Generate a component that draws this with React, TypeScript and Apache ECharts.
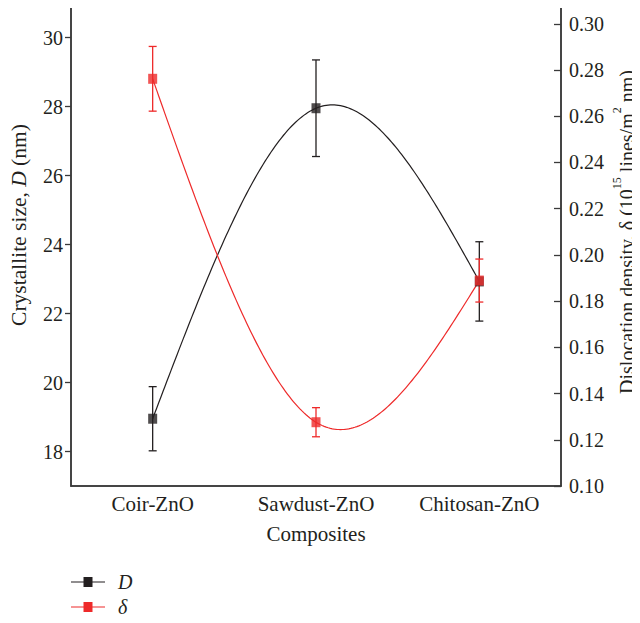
import React, { useEffect, useRef } from "react";
import * as echarts from "echarts";

const categories = ["Coir-ZnO", "Sawdust-ZnO", "Chitosan-ZnO"];
const sizeD = [18.95, 27.95, 22.93];
const sizeErr = [0.93, 1.4, 1.15];
const density = [0.2762, 0.1276, 0.1889];
const densityErr = [0.014, 0.0063, 0.0093];
const leftTicks = [18, 20, 22, 24, 26, 28, 30];
const rightTicks = [0.1, 0.12, 0.14, 0.16, 0.18, 0.2, 0.22, 0.24, 0.26, 0.28, 0.3];
const legendNames = ["D", "δ"];

const BLACK = "#231f20";
const RED = "#ee2a2a";
const FONT = "Liberation Serif";

function naturalSpline(pts: number[][], samples: number): number[][] {
  const n = pts.length;
  if (n < 3) return pts;
  const xs = pts.map((p) => p[0]);
  const ys = pts.map((p) => p[1]);
  const h: number[] = [];
  for (let i = 0; i < n - 1; i++) h.push(xs[i + 1] - xs[i]);
  const a: number[] = new Array(n).fill(0);
  const b: number[] = new Array(n).fill(1);
  const c: number[] = new Array(n).fill(0);
  const d: number[] = new Array(n).fill(0);
  for (let i = 1; i < n - 1; i++) {
    a[i] = h[i - 1];
    b[i] = 2 * (h[i - 1] + h[i]);
    c[i] = h[i];
    d[i] = 6 * ((ys[i + 1] - ys[i]) / h[i] - (ys[i] - ys[i - 1]) / h[i - 1]);
  }
  for (let i = 1; i < n; i++) {
    const m = a[i] / b[i - 1];
    b[i] -= m * c[i - 1];
    d[i] -= m * d[i - 1];
  }
  const M: number[] = new Array(n).fill(0);
  M[n - 1] = d[n - 1] / b[n - 1];
  for (let i = n - 2; i >= 0; i--) M[i] = (d[i] - c[i] * M[i + 1]) / b[i];
  const out: number[][] = [];
  for (let i = 0; i < n - 1; i++) {
    for (let s = 0; s <= samples; s++) {
      if (i > 0 && s === 0) continue;
      const t = s / samples;
      const x = xs[i] + t * h[i];
      const A = 1 - t;
      const B = t;
      const y =
        A * ys[i] +
        B * ys[i + 1] +
        ((A * A * A - A) * M[i] + (B * B * B - B) * M[i + 1]) * (h[i] * h[i]) / 6;
      out.push([x, y]);
    }
  }
  return out;
}

function splineSeries(values: number[], color: string, yAxisIndex: number) {
  return {
    type: "custom",
    yAxisIndex,
    z: 2,
    silent: true,
    data: values.map((v, i) => [i, v]),
    renderItem: (params: any, api: any) => {
      if (params.dataIndex !== 0) return { type: "group", children: [] };
      const pts = values.map((v, i) => api.coord([i, v]));
      return {
        type: "polyline",
        shape: { points: naturalSpline(pts, 80) },
        style: { stroke: color, fill: "none", lineWidth: 1.2 },
      };
    },
  };
}

function errorSeries(values: number[], errs: number[], color: string, yAxisIndex: number) {
  return {
    type: "custom",
    yAxisIndex,
    z: 1,
    silent: true,
    data: values.map((v, i) => [i, v - errs[i], v + errs[i]]),
    renderItem: (params: any, api: any) => {
      const x = api.value(0);
      const lo = api.coord([x, api.value(1)]);
      const hi = api.coord([x, api.value(2)]);
      const hw = 4;
      const style = { stroke: color, lineWidth: 1.3 };
      return {
        type: "group",
        children: [
          { type: "line", shape: { x1: lo[0], y1: lo[1], x2: hi[0], y2: hi[1] }, style },
          { type: "line", shape: { x1: lo[0] - hw, y1: lo[1], x2: lo[0] + hw, y2: lo[1] }, style },
          { type: "line", shape: { x1: hi[0] - hw, y1: hi[1], x2: hi[0] + hw, y2: hi[1] }, style },
        ],
      };
    },
  };
}

function legendItem(name: string, color: string, y: number) {
  return {
    type: "group",
    children: [
      { type: "line", shape: { x1: 71, y1: y, x2: 105, y2: y }, style: { stroke: color, lineWidth: 1.2 } },
      { type: "rect", shape: { x: 83.5, y: y - 5, width: 9, height: 10 }, style: { fill: color } },
      {
        type: "text",
        x: 118,
        y,
        style: {
          text: name,
          fontFamily: FONT,
          fontStyle: "italic",
          fontSize: 20,
          fill: BLACK,
          verticalAlign: "middle",
          align: "left",
        },
      },
    ],
  };
}

export default function App() {
  const ref = useRef<HTMLDivElement>(null);
  useEffect(() => {
    if (!ref.current) return;
    const chart = echarts.init(ref.current, null, { renderer: "svg" });
    const axisLine = { show: true, lineStyle: { color: "#3a3a3a", width: 1.5 } };
    chart.setOption({
      animation: false,
      backgroundColor: "#fff",
      textStyle: { fontFamily: FONT },
      grid: {
        left: 71,
        right: 79,
        top: 3,
        bottom: 137,
        show: true,
        borderColor: "#3a3a3a",
        borderWidth: 1.5,
        backgroundColor: "transparent",
      },
      xAxis: {
        type: "category",
        data: categories,
        boundaryGap: true,
        axisLine,
        axisTick: { show: false },
        axisLabel: { fontFamily: FONT, fontSize: 21, color: BLACK, margin: 7 },
        name: "Composites",
        nameLocation: "middle",
        nameGap: 37,
        nameTextStyle: { fontFamily: FONT, fontSize: 21, color: BLACK },
        splitLine: { show: false },
      },
      yAxis: [
        {
          type: "value",
          min: 17,
          max: 31,
          position: "left",
          axisLine,
          axisTick: { show: true, inside: false, length: 6, customValues: leftTicks, lineStyle: { color: "#3a3a3a", width: 1.3 } },
          axisLabel: { fontFamily: FONT, fontSize: 20, color: BLACK, margin: 8, customValues: leftTicks },
          splitLine: { show: false },
        },
        {
          type: "value",
          min: 0.1,
          max: 0.309,
          position: "right",
          axisLine,
          axisTick: { show: true, inside: true, length: 7, customValues: rightTicks, lineStyle: { color: "#3a3a3a", width: 1.3 } },
          axisLabel: {
            fontFamily: FONT,
            fontSize: 20,
            color: BLACK,
            margin: 8,
            customValues: rightTicks,
            formatter: (v: number) => v.toFixed(2),
          },
          splitLine: { show: false },
        },
      ],
      graphic: [
        {
          type: "text",
          x: 19,
          y: 225,
          rotation: Math.PI / 2,
          style: {
            text: "{n|Crystallite size, }{i|D}{n| (nm)}",
            align: "center",
            verticalAlign: "middle",
            rich: {
              n: { fontFamily: FONT, fontSize: 21.5, fill: BLACK },
              i: { fontFamily: FONT, fontSize: 21.5, fontStyle: "italic", fill: BLACK },
            },
          },
        },
        {
          type: "text",
          x: 624,
          y: 232,
          rotation: Math.PI / 2,
          style: {
            text: "{n|Dislocation density, δ (10}{s|15}{n| lines/m}{s|2}{n| nm)}",
            align: "center",
            verticalAlign: "middle",
            rich: {
              n: { fontFamily: FONT, fontSize: 20, fill: BLACK, verticalAlign: "bottom", lineHeight: 26 },
              s: { fontFamily: FONT, fontSize: 12, fill: BLACK, verticalAlign: "top", lineHeight: 26 },
            },
          },
        },
        legendItem(legendNames[0], BLACK, 582),
        legendItem(legendNames[1], RED, 607),
      ],
      series: [
        errorSeries(sizeD, sizeErr, BLACK, 0),
        errorSeries(density, densityErr, RED, 1),
        splineSeries(sizeD, BLACK, 0),
        splineSeries(density, RED, 1),
        {
          name: "D",
          type: "scatter",
          yAxisIndex: 0,
          data: sizeD,
          symbol: "rect",
          symbolSize: [9, 10],
          z: 3,
          itemStyle: { color: BLACK },
        },
        {
          name: "δ",
          type: "scatter",
          yAxisIndex: 1,
          data: density,
          symbol: "rect",
          symbolSize: [9, 10],
          z: 3,
          itemStyle: { color: RED },
        },
      ],
    });
    return () => chart.dispose();
  }, []);
  return <div ref={ref} style={{ width: 640, height: 623, margin: -8 }} />;
}
